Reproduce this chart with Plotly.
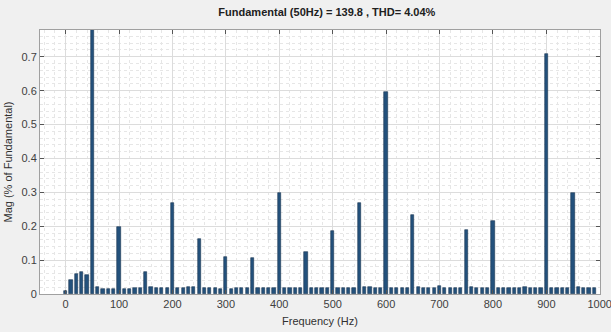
import plotly.graph_objects as go

# Harmonic spectrum, 10 Hz resolution, magnitude in % of the 50 Hz fundamental
freqs = list(range(0, 1000, 10))
mag = [
    0.010, 0.040, 0.060, 0.065, 0.055, 100.0, 0.020, 0.016, 0.014, 0.014,   # 0-90
    0.198, 0.014, 0.016, 0.018, 0.018, 0.066, 0.020, 0.018, 0.018, 0.018,   # 100-190
    0.270, 0.018, 0.018, 0.020, 0.020, 0.162, 0.019, 0.019, 0.018, 0.016,   # 200-290
    0.108, 0.016, 0.018, 0.018, 0.018, 0.105, 0.019, 0.019, 0.018, 0.018,   # 300-390
    0.298, 0.018, 0.018, 0.018, 0.018, 0.123, 0.018, 0.018, 0.018, 0.017,   # 400-490
    0.187, 0.018, 0.018, 0.018, 0.018, 0.269, 0.022, 0.020, 0.019, 0.019,   # 500-590
    0.596, 0.018, 0.018, 0.018, 0.018, 0.234, 0.021, 0.019, 0.019, 0.019,   # 600-690
    0.024, 0.019, 0.019, 0.019, 0.019, 0.189, 0.020, 0.018, 0.018, 0.018,   # 700-790
    0.214, 0.018, 0.018, 0.018, 0.018, 0.018, 0.021, 0.018, 0.018, 0.018,   # 800-890
    0.708, 0.018, 0.018, 0.018, 0.018, 0.299, 0.020, 0.018, 0.018, 0.018,   # 900-990
]

x_ticks = [0, 100, 200, 300, 400, 500, 600, 700, 800, 900, 1000]
y_ticks = [0, 0.1, 0.2, 0.3, 0.4, 0.5, 0.6, 0.7]

title_text = "Fundamental (50Hz) = 139.8 , THD= 4.04%"
x_title = "Frequency (Hz)"
y_title = "Mag (% of Fundamental)"

bar_color = "#23517c"
font_family = "Liberation Sans, Arial, sans-serif"

fig = go.Figure(
    go.Bar(
        x=freqs,
        y=mag,
        width=6,
        marker=dict(color=bar_color, line=dict(color="#1b3652", width=0.6)),
    )
)

axis_common = dict(
    automargin=False,
    showline=True,
    linecolor="#a0a0a0",
    linewidth=1,
    mirror="ticks",
    ticks="inside",
    ticklen=4,
    tickcolor="#555555",
    showgrid=True,
    gridcolor="#dcdcdc",
    gridwidth=1,
    zeroline=False,
    ticklabeloverflow="allow",
    tickfont=dict(family=font_family, size=11, color="#404040"),
    minor=dict(showgrid=True, gridcolor="#e6e6e6", griddash="dot", gridwidth=1),
)

fig.update_layout(
    width=611,
    height=332,
    margin=dict(l=40, r=11, t=30, b=38),
    paper_bgcolor="#f0f0f0",
    plot_bgcolor="#ffffff",
    showlegend=False,
    bargap=0,
    title=dict(
        text="<b>" + title_text + "</b>",
        x=0.535,
        xanchor="center",
        y=0.963,
        yanchor="middle",
        font=dict(family=font_family, size=11, color="#202020"),
    ),
    xaxis=dict(
        range=[-48, 1000.5],
        tickvals=x_ticks,
        ticktext=[str(v) for v in x_ticks],
        title=dict(text=x_title, standoff=8,
                   font=dict(family=font_family, size=11, color="#303030")),
        **axis_common,
    ),
    yaxis=dict(
        range=[0, 0.779],
        tickvals=y_ticks,
        ticktext=["0" if v == 0 else f"{v:.1f}" for v in y_ticks],
        title=dict(text=y_title, standoff=6,
                   font=dict(family=font_family, size=11, color="#303030")),
        **axis_common,
    ),
)
fig.update_xaxes(minor=dict(dtick=20))
fig.update_yaxes(minor=dict(dtick=0.02))

fig.write_html("out.html")
